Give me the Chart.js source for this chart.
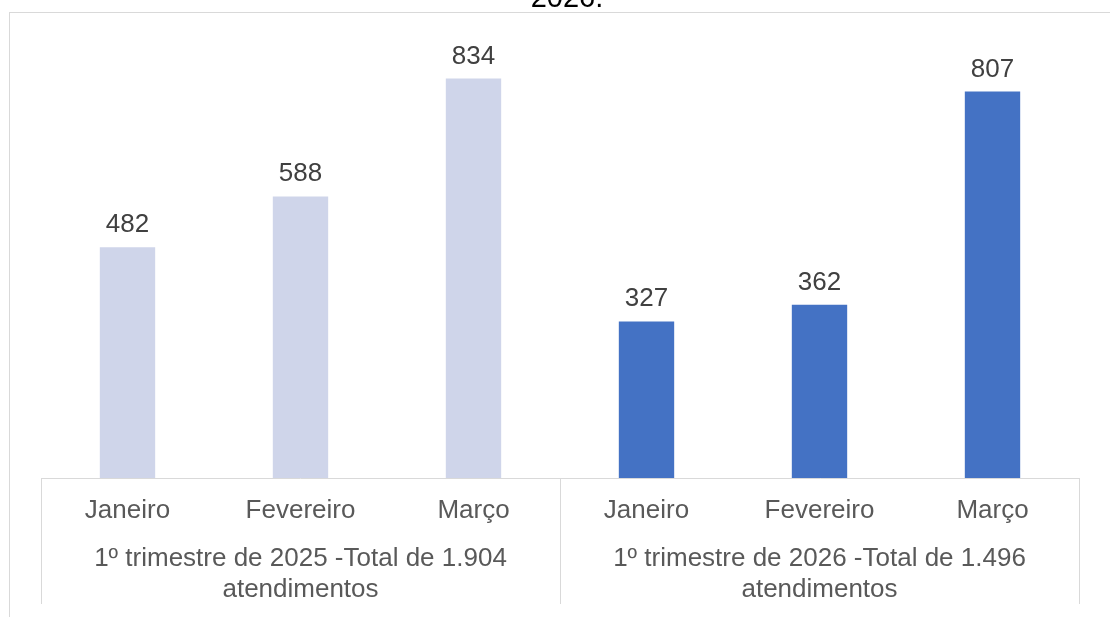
<!DOCTYPE html>
<html>
<head>
<meta charset="utf-8">
<script src="https://cdn.jsdelivr.net/npm/chart.js@4"></script>
<style>
    html, body { margin: 0; padding: 0; background: #fff; overflow: hidden; }
    #wrap { position: relative; width: 1110px; height: 617px; }
    #frame { position: absolute; left: 9px; top: 12px; width: 1200px; height: 700px;
             border-left: 1px solid #d9d9d9; border-top: 1px solid #d9d9d9; }
    canvas { position: absolute; left: 0; top: 0; }
</style>
</head>
<body>
<div id="wrap">
    <div id="frame"></div>
    <canvas id="chart" width="1110" height="617"></canvas>
</div>
<script>
const months = ['Janeiro', 'Fevereiro', 'Março', 'Janeiro', 'Fevereiro', 'Março'];
const groups = [
    ['1º trimestre de 2025 -Total de 1.904', 'atendimentos'],
    ['1º trimestre de 2026 -Total de 1.496', 'atendimentos']
];
const values = [482, 588, 834, 327, 362, 807];
const barColors = ['#cfd5ea', '#cfd5ea', '#cfd5ea', '#4472c4', '#4472c4', '#4472c4'];
const titleText = '2026.';

const FONT = "'Liberation Sans', Arial, sans-serif";
const LINE = '#d9d9d9';

// title (cut off at the top) + data labels + group separators
const extras = {
    id: 'extras',
    afterDatasetsDraw(chart) {
        const ctx = chart.ctx;
        const meta = chart.getDatasetMeta(0);
        ctx.save();
        ctx.font = '26px ' + FONT;
        ctx.fillStyle = '#404040';
        ctx.textAlign = 'center';
        ctx.textBaseline = 'alphabetic';
        meta.data.forEach((bar, i) => {
            ctx.fillText(String(values[i]), bar.x, bar.y - 15);
        });
        ctx.restore();
    },
    afterDraw(chart) {
        const ctx = chart.ctx;
        const area = chart.chartArea;
        const x = chart.scales.x;
        const mid = (x.getPixelForValue(2) + x.getPixelForValue(3)) / 2;
        ctx.save();
        ctx.strokeStyle = LINE;
        ctx.lineWidth = 1;
        [area.left, mid, area.right].forEach(px => {
            const xx = Math.round(px) + 0.5;
            ctx.beginPath();
            ctx.moveTo(xx, area.bottom);
            ctx.lineTo(xx, 604);
            ctx.stroke();
        });
        ctx.font = '29px ' + FONT;
        ctx.fillStyle = '#000';
        ctx.textAlign = 'center';
        ctx.textBaseline = 'alphabetic';
        ctx.fillText(titleText, 567, 7);
        ctx.restore();
    }
};

new Chart(document.getElementById('chart'), {
    type: 'bar',
    data: {
        labels: months,
        datasets: [{
            data: values,
            backgroundColor: barColors,
            borderWidth: 0,
            categoryPercentage: 1,
            barPercentage: 0.32
        }]
    },
    options: {
        responsive: false,
        animation: false,
        devicePixelRatio: 1,
        layout: { padding: { left: 41, right: 31, top: 47, bottom: 0 } },
        plugins: {
            legend: { display: false },
            tooltip: { enabled: false }
        },
        scales: {
            y: {
                display: false,
                min: 0,
                max: 900
            },
            x: {
                position: 'bottom',
                grid: { display: false, drawTicks: false },
                border: { display: true, color: LINE, width: 1 },
                ticks: {
                    color: '#595959',
                    font: { family: FONT, size: 26 },
                    padding: 17,
                    maxRotation: 0,
                    autoSkip: false
                },
                afterFit: s => { s.height = 48; }
            },
            x2: {
                type: 'category',
                position: 'bottom',
                labels: groups,
                offset: true,
                grid: { display: false, drawTicks: false },
                border: { display: false },
                ticks: {
                    color: '#595959',
                    font: { family: FONT, size: 26 },
                    padding: 17,
                    maxRotation: 0,
                    autoSkip: false
                },
                afterFit: s => { s.height = 91; }
            }
        }
    },
    plugins: [extras]
});
</script>
</body>
</html>
